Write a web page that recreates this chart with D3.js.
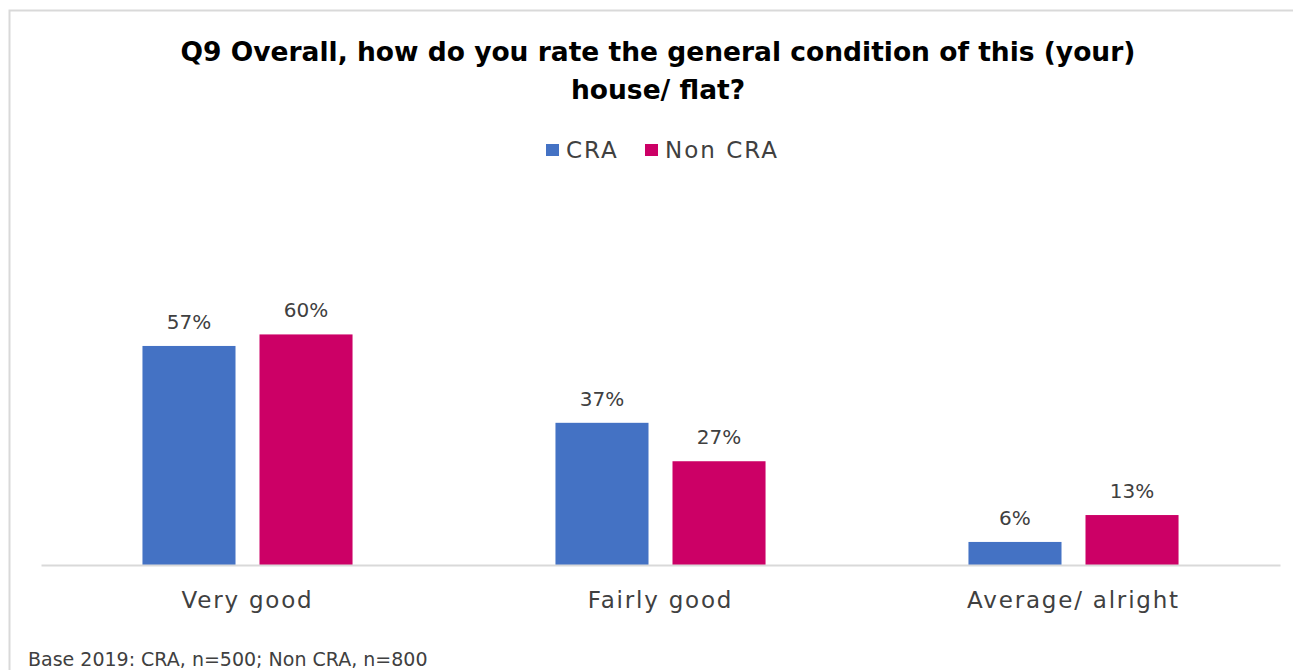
<!DOCTYPE html>
<html>
<head>
<meta charset="utf-8">
<script src="https://cdn.jsdelivr.net/npm/d3@7"></script>
<style>
  html, body { margin: 0; padding: 0; background: #fff; }
  svg { display: block; }
  text { font-family: "DejaVu Sans", sans-serif; }
</style>
</head>
<body>
<svg id="chart" width="1293" height="670"></svg>
<script>
// Survey results: rating of the general condition of the home
const categories = ["Very good", "Fairly good", "Average/ alright"];
const seriesNames = ["CRA", "Non CRA"];
const craValues = [57, 37, 6];
const nonCraValues = [60, 27, 13];
const seriesColors = ["#4472C4", "#CC0066"];
const titleLines = ["Q9 Overall, how do you rate the general condition of this (your)", "house/ flat?"];
const footnote = "Base 2019: CRA, n=500; Non CRA, n=800";

const seriesValues = [craValues, nonCraValues];
const rows = categories.map((c, i) => ({
  category: c,
  values: seriesNames.map((s, j) => ({ series: s, value: seriesValues[j][i] }))
}));

const width = 1293, height = 670;
const margin = { left: 41, right: 13, top: 296, bottom: 105 };
const svg = d3.select("#chart");

// chart frame
svg.append("path")
  .attr("d", `M9.5,${height} V10.5 H${width}`)
  .attr("fill", "none")
  .attr("stroke", "#d9d9d9")
  .attr("stroke-width", 2);

const x0 = d3.scaleBand()
  .domain(categories)
  .range([margin.left, width - margin.right])
  .padding(0);

const x1 = d3.scaleBand()
  .domain(seriesNames)
  .range([0, x0.bandwidth()])
  .paddingInner(0.205)
  .paddingOuter(0.867);

const y = d3.scaleLinear()
  .domain([0, 70])
  .range([height - margin.bottom, margin.top]);

const color = d3.scaleOrdinal().domain(seriesNames).range(seriesColors);

// title
svg.append("text")
  .attr("x", 658)
  .attr("y", 61)
  .attr("text-anchor", "middle")
  .attr("font-size", 26.5)
  .attr("font-weight", "bold")
  .attr("fill", "#000")
  .selectAll("tspan")
  .data(titleLines)
  .join("tspan")
  .attr("x", 658)
  .attr("dy", (d, i) => i === 0 ? 0 : 38)
  .text(d => d);

// legend
const legendItems = [
  { name: "CRA", x: 546 },
  { name: "Non CRA", x: 645 }
];
const legend = svg.append("g");
legendItems.forEach(item => {
  legend.append("rect")
    .attr("x", item.x).attr("y", 144)
    .attr("width", 13).attr("height", 12)
    .attr("fill", color(item.name));
  legend.append("text")
    .attr("x", item.x + 20).attr("y", 158)
    .attr("font-size", 23)
    .attr("letter-spacing", 2)
    .attr("fill", "#404040")
    .text(item.name);
});

// bars
const groups = svg.append("g")
  .selectAll("g")
  .data(rows)
  .join("g")
  .attr("transform", d => `translate(${x0(d.category)},0)`);

groups.selectAll("rect")
  .data(d => d.values)
  .join("rect")
  .attr("x", d => x1(d.series))
  .attr("y", d => y(d.value))
  .attr("width", x1.bandwidth())
  .attr("height", d => y(0) - y(d.value))
  .attr("fill", d => color(d.series));

groups.selectAll("text")
  .data(d => d.values)
  .join("text")
  .attr("x", d => x1(d.series) + x1.bandwidth() / 2)
  .attr("y", d => y(d.value) - 17)
  .attr("text-anchor", "middle")
  .attr("font-size", 20)
  .attr("fill", "#404040")
  .text(d => d.value + "%");

// category axis
const xAxis = svg.append("g")
  .attr("transform", `translate(0,${y(0)})`)
  .call(d3.axisBottom(x0).tickSize(0).tickPadding(27));
xAxis.select(".domain").attr("stroke", "#d9d9d9").attr("stroke-width", 2);
xAxis.selectAll("text")
  .attr("font-size", 23)
  .attr("letter-spacing", 1.8)
  .attr("font-family", "DejaVu Sans, sans-serif")
  .attr("fill", "#404040");

// footnote
svg.append("text")
  .attr("x", 28)
  .attr("y", 666)
  .attr("font-size", 19)
  .attr("fill", "#404040")
  .text(footnote);
</script>
</body>
</html>
